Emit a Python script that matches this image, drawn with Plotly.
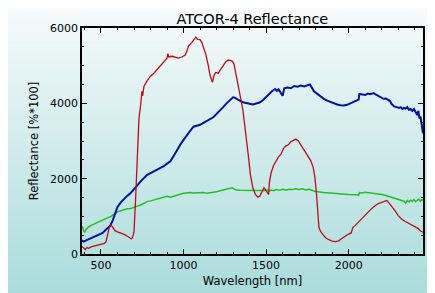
import plotly.graph_objects as go

# ---------------- data ----------------
red_wl = [385, 395, 405, 415, 425, 440, 460, 480, 500, 520, 530, 540, 550, 560, 570, 585, 600, 620, 640, 660,
          675, 685, 692, 700, 710, 720, 730, 740, 745, 748, 752, 760, 780, 800, 820, 840, 860, 880, 900, 905,
          910, 930, 950, 970, 990, 1010, 1020, 1030, 1050, 1065, 1075, 1085, 1100, 1110, 1120, 1135, 1150, 1160,
          1170, 1175, 1185, 1195, 1210, 1225, 1240, 1255, 1270, 1285, 1295, 1305, 1315, 1330, 1345, 1360, 1375,
          1390, 1405, 1420, 1435, 1450, 1462, 1475, 1487, 1497, 1507, 1515, 1520, 1530, 1545, 1560, 1575, 1590,
          1605, 1620, 1635, 1650, 1665, 1680, 1695, 1710, 1725, 1740, 1755, 1770, 1785, 1795, 1805, 1812, 1820,
          1830, 1845, 1860, 1880, 1900, 1920, 1940, 1960, 1980, 2000, 2015, 2025, 2040, 2060, 2080, 2100, 2120,
          2140, 2160, 2180, 2200, 2215, 2230, 2245, 2260, 2280, 2300, 2320, 2340, 2360, 2380, 2400, 2420, 2435, 2450]
red_val = [200, 150, 120, 170, 150, 190, 210, 220, 250, 280, 320, 500, 700, 780, 700, 620, 590, 560, 520, 470,
           420, 400, 450, 600, 1500, 2700, 3600, 3950, 4150, 4320, 4200, 4450, 4600, 4720, 4800, 4900, 5000, 5100, 5200, 5320,
           5230, 5250, 5220, 5200, 5230, 5280, 5380, 5520, 5620, 5700, 5760, 5700, 5690, 5620, 5500, 5300, 5000, 4750,
           4620, 4560, 4750, 4820, 4800, 4900, 5000, 5100, 5150, 5140, 5120, 5050, 4800, 4450, 4150, 3800, 3300,
           2700, 2100, 1750, 1580, 1510, 1540, 1680, 1760, 1700, 1620, 1580, 1900, 2150, 2350, 2480, 2580, 2650,
           2800, 2870, 2900, 2980, 3010, 3050, 3000, 2900, 2780, 2700, 2580, 2480, 2300, 2050, 1600, 1100, 700,
           600, 500, 430, 380, 340, 330, 350, 420, 480, 530, 560, 700, 760, 850, 950, 1050, 1130,
           1210, 1280, 1340, 1370, 1400, 1420, 1350, 1250, 1150, 1020, 930, 870, 820, 760, 710, 680, 610, 580]

blue_wl = [385, 395, 410, 430, 450, 470, 490, 510, 526, 545, 556, 570, 585, 600, 620, 640, 660, 680, 700, 720,
           740, 760, 780, 800, 820, 840, 860, 880, 900, 920, 940, 960, 980, 1000, 1020, 1040, 1060, 1080, 1100,
           1120, 1140, 1160, 1180, 1200, 1220, 1240, 1260, 1280, 1300, 1310, 1320, 1340, 1360, 1380, 1400, 1420,
           1440, 1460, 1480, 1500, 1520, 1540, 1555, 1565, 1575, 1590, 1600, 1610, 1630, 1650, 1670, 1690, 1710,
           1730, 1750, 1765, 1775, 1790, 1810, 1830, 1850, 1870, 1890, 1910, 1930, 1950, 1970, 1990, 2010, 2030,
           2050, 2060, 2065, 2080, 2100, 2115, 2130, 2150, 2165, 2180, 2195, 2210, 2225, 2240, 2250, 2260, 2275,
           2290, 2305, 2315, 2325, 2335, 2345, 2355, 2365, 2375, 2385, 2395, 2405, 2415, 2422, 2428, 2435, 2442, 2450]
blue_val = [360, 330, 360, 400, 420, 460, 500, 560, 630, 700, 750, 880, 1080, 1250, 1370, 1470, 1550, 1620, 1710, 1820,
            1930, 2020, 2100, 2150, 2190, 2240, 2280, 2330, 2400, 2460, 2600, 2760, 2900, 3030, 3160, 3270, 3380, 3400, 3430,
            3480, 3530, 3570, 3630, 3720, 3800, 3900, 4000, 4080, 4160, 4150, 4120, 4070, 4030, 4000, 3990, 3970,
            3990, 4020, 4080, 4170, 4260, 4340, 4380, 4330, 4370, 4250, 4200, 4400, 4420, 4400, 4460, 4440, 4470,
            4450, 4480, 4500, 4430, 4320, 4250, 4180, 4120, 4070, 4030, 4000, 3970, 3950, 3940, 3960, 4000, 4040,
            4070, 4100, 4250, 4240, 4220, 4260, 4240, 4270, 4230, 4180, 4150, 4120, 4130, 4100, 4060, 3980, 3920,
            3900, 3880, 3900, 3850, 3880, 3860, 3900, 3830, 3850, 3800, 3850, 3780, 3690, 3800, 3600, 3650, 3450, 3200]

green_wl = [385, 390, 395, 402, 410, 420, 440, 460, 480, 500, 520, 540, 560, 580, 600, 620, 640, 660, 680, 700,
            720, 740, 760, 780, 800, 820, 840, 860, 880, 900, 920, 940, 960, 980, 1000, 1020, 1040, 1060, 1080,
            1100, 1120, 1140, 1160, 1180, 1200, 1220, 1240, 1260, 1280, 1295, 1305, 1320, 1340, 1380, 1420, 1460,
            1500, 1510, 1520, 1530, 1545, 1560, 1580, 1600, 1620, 1640, 1660, 1680, 1700, 1720, 1740, 1760, 1780,
            1800, 1850, 1900, 1950, 2000, 2050, 2060, 2065, 2080, 2100, 2120, 2140, 2160, 2180, 2200, 2220, 2240,
            2260, 2280, 2300, 2320, 2335, 2345, 2355, 2365, 2375, 2385, 2395, 2405, 2415, 2425, 2435, 2445, 2450]
green_val = [730, 700, 620, 580, 650, 700, 760, 800, 830, 870, 910, 950, 1000, 1060, 1120, 1150, 1180, 1200, 1210, 1230,
             1270, 1300, 1350, 1390, 1410, 1430, 1460, 1490, 1510, 1530, 1510, 1540, 1570, 1590, 1610, 1620, 1630, 1620, 1625,
             1620, 1630, 1610, 1620, 1630, 1650, 1680, 1700, 1710, 1730, 1760, 1730, 1700, 1690, 1685, 1680, 1680,
             1685, 1700, 1670, 1700, 1680, 1710, 1690, 1720, 1700, 1720, 1710, 1730, 1710, 1730, 1700, 1720, 1700,
             1660, 1630, 1610, 1590, 1580, 1570, 1560, 1630, 1620, 1640, 1630, 1620, 1610, 1590, 1580, 1560, 1530,
             1500, 1480, 1440, 1420, 1400, 1350, 1420, 1380, 1430, 1400, 1450, 1390, 1440, 1460, 1400, 1450, 1420]

x_ticks = [500, 1000, 1500, 2000]
y_ticks = [0, 2000, 4000, 6000]

# ---------------- figure ----------------
# the page has an 8px body margin, so figure coordinates are page coordinates minus 8
W, H = 435, 293
L, T = 73.7, 20.3
R = W - 415.0
B = H - 246.3
pw, ph = W - L - R, H - T - B

fig = go.Figure()
fig.add_trace(go.Scatter(x=green_wl, y=green_val, mode="lines", line=dict(color="#1ec21e", width=1.5)))
fig.add_trace(go.Scatter(x=blue_wl, y=blue_val, mode="lines", line=dict(color="#0010aa", width=2)))
fig.add_trace(go.Scatter(x=red_wl, y=red_val, mode="lines", line=dict(color="#c00a14", width=1.3)))

# background gradient over the whole figure (white at top -> teal at bottom)
top_c = (247, 250, 251)
bot_c = (168, 219, 219)
n = 70
shapes = []
for i in range(n):
    a = H * i / n
    b = H * (i + 1) / n + 0.6
    t = (i + 0.5) / n
    c = tuple(round(top_c[k] + (bot_c[k] - top_c[k]) * t) for k in range(3))
    shapes.append(dict(type="rect", xref="paper", yref="paper", layer="below",
                       x0=-L / pw - 0.01, x1=(W - L) / pw + 0.01,
                       y0=(H - B - a) / ph, y1=(H - B - b) / ph,
                       line=dict(width=0), fillcolor="rgb(%d,%d,%d)" % c))

font = "DejaVu Sans"
axis_common = dict(showgrid=False, zeroline=False, showline=True, linecolor="black", linewidth=1.5,
                   mirror="ticks", ticks="inside", ticklen=5, tickcolor="black", tickwidth=1,
                   tickfont=dict(family=font, size=11, color="black"))
fig.update_layout(
    width=W, height=H,
    margin=dict(l=L, r=R, t=T, b=B, autoexpand=False),
    paper_bgcolor="rgb(210,235,236)", plot_bgcolor="rgba(0,0,0,0)",
    showlegend=False,
    shapes=shapes,
    title=dict(text="ATCOR-4 Reflectance", x=(L + pw / 2) / W, xanchor="center",
               y=1 - 10.5 / H, yanchor="middle", font=dict(family=font, size=14.5, color="black")),
    xaxis=dict(range=[385, 2450], tickvals=x_ticks, ticktext=[str(v) for v in x_ticks],
               minor=dict(dtick=100, tick0=0, ticklen=2.5, ticks="inside", tickcolor="black"),
               title=dict(text="Wavelength [nm]", font=dict(family=font, size=11.5, color="black"), standoff=6),
               **axis_common),
    yaxis=dict(range=[0, 6000], tickvals=y_ticks, ticktext=[str(v) for v in y_ticks],
               minor=dict(dtick=500, tick0=0, ticklen=2.5, ticks="inside", tickcolor="black"),
               title=dict(text="Reflectance [%*100]", font=dict(family=font, size=11.5, color="black"), standoff=9),
               **axis_common),
)

fig.write_html("out.html")
